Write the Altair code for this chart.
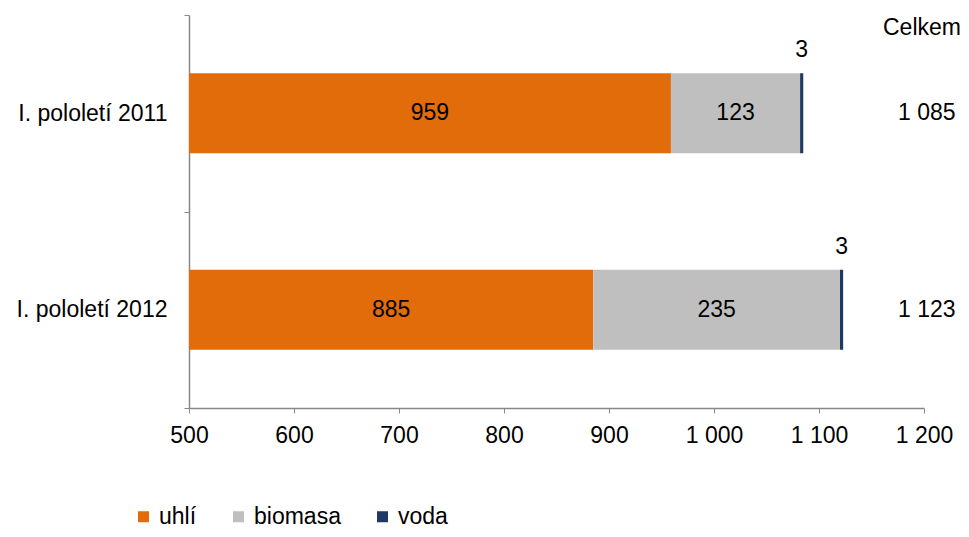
import altair as alt
import pandas as pd

periods = ["I. pololetí 2011", "I. pololetí 2012"]
uhli = [959, 885]
biomasa = [123, 235]
voda = [3, 3]
celkem = [1085, 1123]
sources = ["uhlí", "biomasa", "voda"]
colors = ["#E36C0A", "#BFBFBF", "#1F3864"]
x_ticks = [500, 600, 700, 800, 900, 1000, 1100, 1200]

rows = []
for i, p in enumerate(periods):
    for k, (s, vals) in enumerate(zip(sources, [uhli, biomasa, voda])):
        rows.append({"period": p, "source": s, "value": vals[i], "order": k})
df = pd.DataFrame(rows)
tot = pd.DataFrame({"period": periods, "total": celkem})

FONT = "Liberation Sans"
FS = 23

y_enc = alt.Y("period:N", sort=periods, title=None,
              scale=alt.Scale(paddingInner=0, paddingOuter=0),
              axis=alt.Axis(tickBand="extent", domainColor="#888888", tickColor="#888888",
                            tickSize=5, labelPadding=17, labelFontSize=FS, labelFont=FONT,
                            labelColor="#000000", grid=False))

x_scale = alt.Scale(domain=[500, 1200], nice=False, zero=False)

base = alt.Chart(df).transform_stack(
    stack="value", groupby=["period"], as_=["x0", "x1"],
    sort=[alt.SortField("order", order="ascending")]
).transform_calculate(
    mid="(max(datum.x0, 500) + datum.x1) / 2"
)

bars = base.mark_bar(size=80, clip=True).encode(
    y=y_enc,
    x=alt.X("x0:Q", scale=x_scale, title=None,
            axis=alt.Axis(values=x_ticks, domainColor="#888888", tickColor="#888888",
                          tickSize=5, labelPadding=11, labelFontSize=FS, labelFont=FONT,
                          labelColor="#000000", grid=False, labelFlush=False,
                          labelExpr="replace(format(datum.value, ','), ',', ' ')")),
    x2="x1:Q",
    color=alt.Color("source:N", sort=sources,
                    scale=alt.Scale(domain=sources, range=colors),
                    legend=alt.Legend(title=None, orient="none", direction="horizontal",
                                      legendX=-57, legendY=490, symbolType="square",
                                      symbolSize=121, symbolStrokeWidth=0,
                                      labelFontSize=FS, labelFont=FONT, labelColor="#000000",
                                      labelOffset=4, columnPadding=30)),
)

inner = base.transform_filter("datum.source != 'voda'").mark_text(
    font=FONT, fontSize=FS, color="#000000", baseline="middle"
).encode(
    y=alt.Y("period:N", sort=periods),
    x=alt.X("mid:Q", scale=x_scale),
    text=alt.Text("value:Q"),
)

top = base.transform_filter("datum.source == 'voda'").mark_text(
    font=FONT, fontSize=FS, color="#000000", baseline="middle", dy=-63
).encode(
    y=alt.Y("period:N", sort=periods),
    x=alt.X("mid:Q", scale=x_scale),
    text=alt.Text("value:Q"),
)

totals = alt.Chart(tot).transform_calculate(
    label="replace(format(datum.total, ','), ',', ' ')"
).mark_text(font=FONT, fontSize=FS, color="#000000", baseline="middle", align="left").encode(
    y=alt.Y("period:N", sort=periods),
    x=alt.value(709),
    text="label:N",
)

header = alt.Chart(pd.DataFrame({"t": ["Celkem"]})).mark_text(
    font=FONT, fontSize=FS, color="#000000", baseline="middle", align="left"
).encode(
    x=alt.value(694), y=alt.value(13), text="t:N"
)

chart = alt.layer(bars, inner, top, totals, header).properties(
    width=735, height=393,
    autosize=alt.AutoSizeParams(type="none"),
    padding={"left": 181, "top": 7, "right": 37, "bottom": 121},
).configure_view(stroke=None).configure_axisX(domainWidth=1.5).configure_axisY(domainWidth=1.5)

chart.save("out.html", embed_options={"renderer": "svg", "actions": False})
